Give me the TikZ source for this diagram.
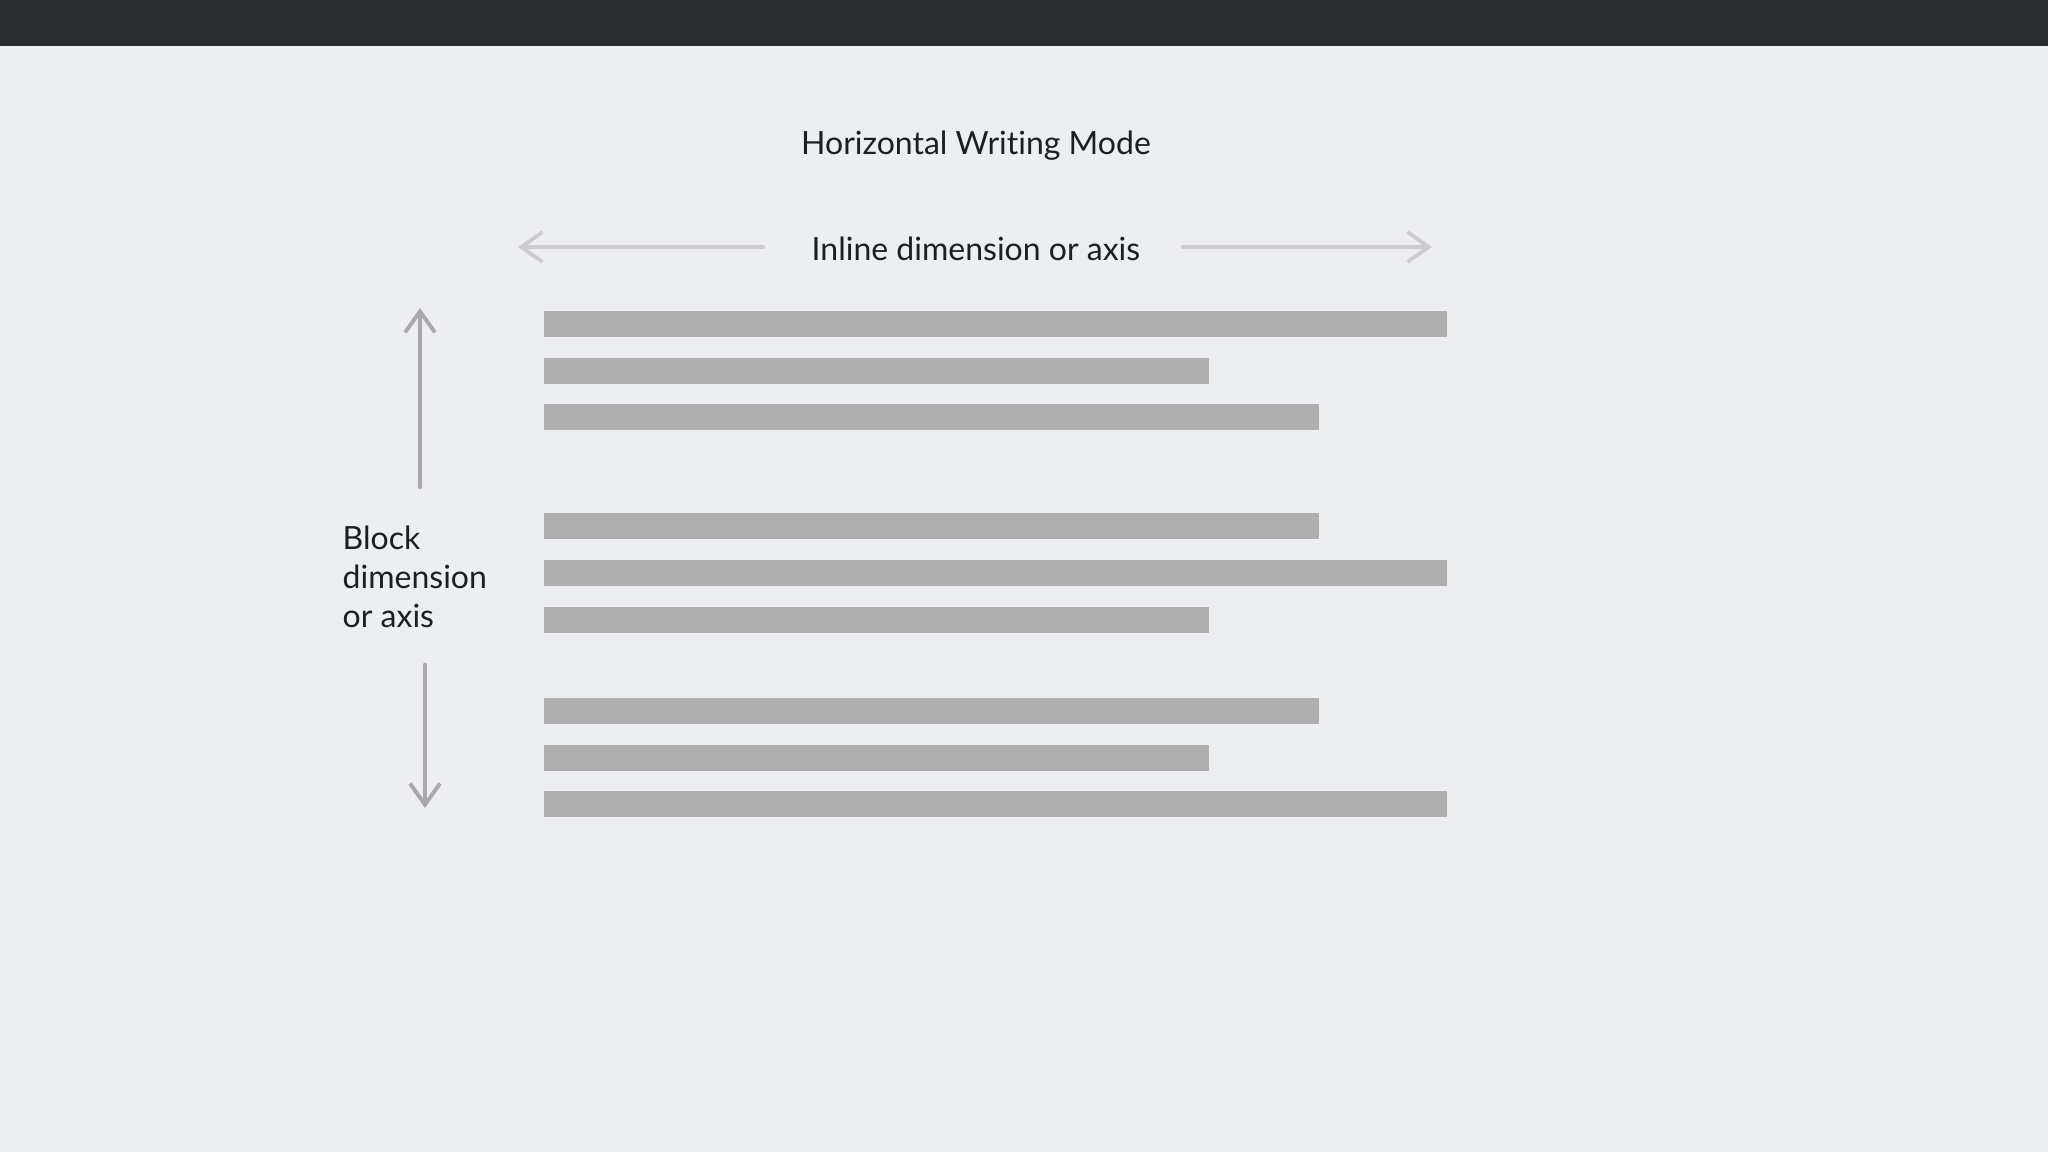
\documentclass[tikz,border=0pt]{standalone}
\usepackage{fontspec}
\setmainfont[Ligatures=NoCommon]{Lato}
\usetikzlibrary{arrows.meta,positioning}
\definecolor{wmback}{HTML}{EDEEF2}
\definecolor{wmtop}{HTML}{2A2B2F}
\definecolor{wmtext}{HTML}{1B1F24}
\definecolor{wmbar}{HTML}{AFAFB0}
\definecolor{wmlight}{HTML}{CDCDD1}
\definecolor{wmdark}{HTML}{A9A9AB}

\begin{document}
\begin{tikzpicture}[x=0.01cm,y=-0.01cm,
  bar/.style={rectangle,fill=wmbar,inner sep=0pt,minimum height=0.26cm,anchor=west},
  longbar/.style={bar,minimum width=9.03cm},
  midbar/.style={bar,minimum width=7.75cm},
  shortbar/.style={bar,minimum width=6.65cm},
  lbl/.style={font=\fontsize{9.1pt}{11pt}\selectfont,text=wmtext,inner sep=0pt},
  sketch/.style={-{Straight Barb[length=6pt,width=8.5pt,line width=1.1pt]},line width=1.3pt,line cap=round}
]

  % ---- Page -------------------------------------------------
  \fill[wmback] (0,0) rectangle (2048,1152);
  \fill[wmtop] (0,0) rectangle (2048,46);
  \useasboundingbox (0,0) rectangle (2048,1152);

  % ---- Labels -----------------------------------------------
  \node[lbl] (title) at (976,146) {Horizontal Writing Mode};
  \node[lbl] (inline) at (976,249) {Inline dimension or axis};
  \node[lbl,anchor=west,align=left,font=\fontsize{9.1pt}{11pt}\selectfont] (block) at (342,577)
    {Block\\dimension\\or axis};

  % ---- Text lines -------------------------------------------
  \node[longbar]  (l1) at (543,324) {};
  \node[shortbar] (l2) at (543,371) {};
  \node[midbar]   (l3) at (543,417) {};

  \node[midbar]   (l4) at (543,526) {};
  \node[longbar]  (l5) at (543,573) {};
  \node[shortbar] (l6) at (543,620) {};

  \node[midbar]   (l7) at (543,711) {};
  \node[shortbar] (l8) at (543,758) {};
  \node[longbar]  (l9) at (543,804) {};

  % ---- Arrows -----------------------------------------------
  \coordinate (inleftfrom)  at (763,247);
  \coordinate (inleft)      at (518,247);
  \coordinate (inrightfrom) at (1183,247);
  \coordinate (inright)     at (1432,247);
  \coordinate (blkupfrom)   at (420,487);
  \coordinate (blkup)       at (420,308);
  \coordinate (blkdownfrom) at (425,665);
  \coordinate (blkdown)     at (425,808);

  \draw[sketch,wmlight] (inleftfrom) -- (inleft);
  \draw[sketch,wmlight] (inrightfrom) -- (inright);
  \draw[sketch,wmdark] (blkupfrom) -- (blkup);
  \draw[sketch,wmdark] (blkdownfrom) -- (blkdown);

\end{tikzpicture}
\end{document}
